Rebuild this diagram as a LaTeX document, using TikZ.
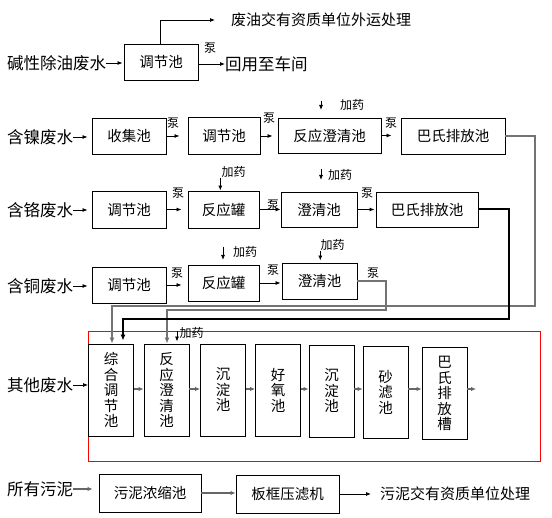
\documentclass[tikz,border=0pt]{standalone}
\usepackage{fontspec}
\setmainfont{Noto Sans CJK SC}
\usetikzlibrary{arrows.meta}

\begin{document}
\begin{tikzpicture}[x=1pt,y=-1pt,
  box/.style={draw,line width=0.9pt,inner sep=0pt,font=\fontsize{14.5}{15.5}\selectfont},
  wh/.style 2 args={minimum width=#1pt,minimum height=#2pt},
  tall/.style={box,wh={45}{92},align=center},
  src/.style={anchor=west,inner sep=0pt,font=\fontsize{16.5}{18}\selectfont},
  dest/.style={anchor=west,inner sep=0pt,font=\fontsize{15}{17}\selectfont},
  smalltxt/.style={inner sep=0pt,font=\fontsize{12}{13}\selectfont},
  flow/.style={line width=0.8pt,-{Latex[length=5pt,width=4pt]}},
  stage/.style={line width=1.5pt,draw=black!60,-{Latex[length=5pt,width=4.5pt]}},
  pipe/.style={line width=1.2pt,draw=black!55,-{Latex[length=6pt,width=5pt]}}]
\useasboundingbox (0,0) rectangle (552,518);

\node[src] (alk) at (7,63) {碱性除油废水};
\node[box,wh={74}{36}] (alk1) at (161,62) {调节池};
\node[dest] (oil) at (231,20) {废油交有资质单位外运处理};
\node[src] (reuse) at (225,64) {回用至车间};
\node[smalltxt] (p0) at (210,48) {泵};
\draw[flow,shorten >=1pt] (alk.east) -- (alk.east -| alk1.west);
\draw[flow,shorten >=16pt] ([xshift=-1pt]alk1.north) |- (oil.west);
\draw[flow] (alk1.east |- reuse.west) -- (reuse.west);

\node[src] (ni) at (7,137) {含镍废水};
\node[box,wh={74}{36}] (ni1) at (129,136) {收集池};
\node[box,wh={72}{37}] (ni2) at (224,136) {调节池};
\node[box,wh={103}{35}] (ni3) at (329.5,135.5) {反应澄清池};
\node[box,wh={104}{36}] (ni4) at (453,136) {巴氏排放池};
\node[smalltxt] (p11) at (173,123) {泵};
\node[smalltxt] (p12) at (269,118) {泵};
\node[smalltxt] (p13) at (391,123) {泵};
\node[smalltxt] (d13) at (352,105) {加药};
\coordinate (d13a) at (321,101);
\draw[flow,shorten >=4pt] (ni.east) -- (ni.east -| ni1.west);
\draw[flow,shorten >=8pt] (ni1.east) -- (ni1.east -| ni2.west);
\draw[flow,shorten >=5pt] (ni2.east) -- (ni2.east -| ni3.west);
\draw[flow,shorten >=9pt] (ni3.east) -- (ni3.east -| ni4.west);
\draw[flow] (d13a) -- ++(0,9);

\node[src] (cr) at (7,210) {含铬废水};
\node[box,wh={74}{37}] (cr1) at (129,209.5) {调节池};
\node[box,wh={71}{37}] (cr2) at (223.5,209.5) {反应罐};
\node[box,wh={76}{35}] (cr3) at (319,209.5) {澄清池};
\node[box,wh={102}{35}] (cr4) at (427,209.5) {巴氏排放池};
\node[smalltxt] (p21) at (178,193) {泵};
\node[smalltxt] (p22) at (273,205) {泵};
\node[smalltxt] (p23) at (367,193) {泵};
\node[smalltxt] (d22) at (233.5,172) {加药};
\node[smalltxt] (d23) at (340,175) {加药};
\coordinate (d23a) at (321,169);
\draw[flow,shorten >=4pt] (cr.east) -- (cr.east -| cr1.west);
\draw[flow,shorten >=6pt] (cr1.east) -- (cr1.east -| cr2.west);
\draw[flow] (cr2.east) -- (cr2.east -| cr3.west);
\draw[flow,shorten >=1pt] (cr3.east) -- (cr3.east -| cr4.west);
\draw[flow] ([xshift=-1pt]d22.south west) -- ([xshift=-1pt]d22.south west |- cr2.north);
\draw[flow] (d23a) -- ++(0,11);

\node[src] (cu) at (7,286) {含铜废水};
\node[box,wh={74}{36}] (cu1) at (129,285) {调节池};
\node[box,wh={71}{36}] (cu2) at (223.5,283) {反应罐};
\node[box,wh={75}{36}] (cu3) at (319.5,281) {澄清池};
\node[smalltxt] (p31) at (177,273) {泵};
\node[smalltxt] (p32) at (273,270) {泵};
\node[smalltxt] (p33) at (373,273) {泵};
\node[smalltxt] (d32) at (245,252) {加药};
\node[smalltxt] (d33) at (332.5,245) {加药};
\coordinate (d32a) at (223,247);
\draw[flow,shorten >=4pt] (cu.east) -- (cu.east -| cu1.west);
\draw[flow,shorten >=6pt] (cu1.east) -- (cu1.east -| cu2.west);
\draw[flow,shorten >=1pt] (cu2.east) -- (cu2.east -| cu3.west);
\draw[flow] (d32a) -- ++(0,13);
\draw[flow,shorten >=2pt] (d33.south west) -- (d33.south west |- cu3.north);

\draw[red,line width=1pt] (88,332) rectangle (540,462);
\node[src] (oth) at (7,385) {其他废水};
\node[tall] (mix1) at (111,390) {综\\合\\调\\节\\池};
\node[tall] (mix2) at (166.5,390) {反\\应\\澄\\清\\池};
\node[tall] (mix3) at (223,390) {沉\\淀\\池};
\node[tall] (mix4) at (278,390) {好\\氧\\池};
\node[tall] (mix5) at (331.5,391) {沉\\淀\\池};
\node[tall] (mix6) at (385.5,392) {砂\\滤\\池};
\node[tall] (mix7) at (444.5,393.5) {巴\\氏\\排\\放\\槽};
\coordinate (mixout) at (476,389);
\node[smalltxt] (d52) at (191.5,333) {加药};
\coordinate (d52a) at (177,331);
\draw[flow] (oth.east) -- (oth.east -| mix1.west);
\foreach \a/\b in {mix1/mix2,mix2/mix3,mix3/mix4,mix4/mix5,mix5/mix6,mix6/mix7}
  \draw[stage] (\a.east |- 0,389) -- (\b.west |- 0,389);
\draw[stage] (mix7.east |- 0,389) -- (mixout);
\draw[flow,shorten >=2pt] (d52a) -- (d52a |- mix2.north);

\draw[pipe] (ni4.east) -| (535,306) -| ([xshift=1pt]mix1.north);
\draw[pipe] (cu3.east) -| (386,310) -| ([xshift=0.5pt]mix2.north);
\draw[line width=2pt,-{Latex[length=6pt,width=5pt]},shorten >=3pt] (cr4.east) -| (509,319) -| ([xshift=12pt]mix1.north);

\node[src] (sl) at (7,489) {所有污泥};
\node[box,wh={102}{38}] (sl1) at (150,493) {污泥浓缩池};
\node[box,wh={103}{38}] (sl2) at (287.5,494) {板框压滤机};
\node[dest] (slout) at (380,494) {污泥交有资质单位处理};
\draw[stage,shorten >=6pt] (sl.east) -- (sl.east -| sl1.west);
\draw[stage] (sl1.east) -- (sl1.east -| sl2.west);
\draw[flow,shorten >=9pt] (sl2.east) -- (sl2.east -| slout.west);
\end{tikzpicture}
\end{document}
